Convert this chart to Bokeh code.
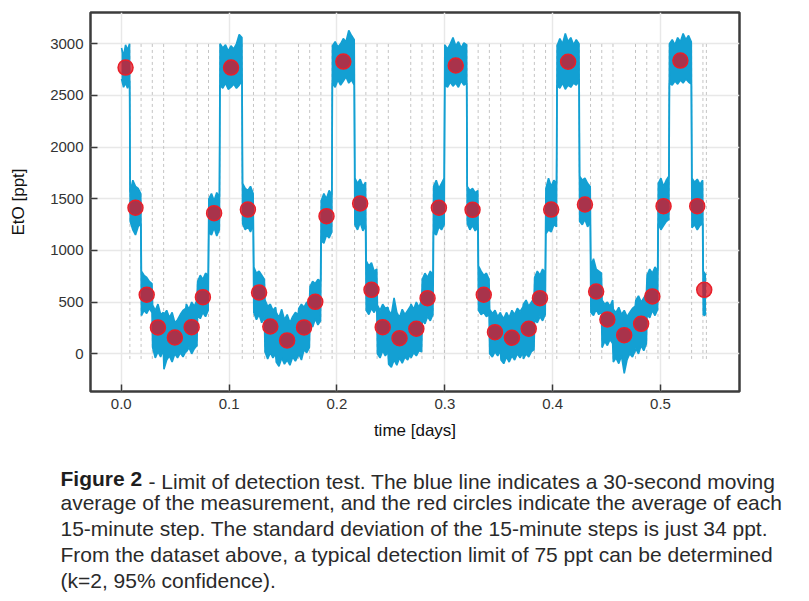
import numpy as np
from bokeh.plotting import figure
from bokeh.models import Range1d, FixedTicker, PrintfTickFormatter, Title
from bokeh.embed import file_html
from bokeh.resources import INLINE

# ---------------- data ----------------
x_ticks = [0.0, 0.1, 0.2, 0.3, 0.4, 0.5]
y_ticks = [0, 500, 1000, 1500, 2000, 2500, 3000]

# start time [days] of each concentration step of the blue trace
step_start = [0.0000, 0.0080, 0.0184, 0.0288, 0.0393, 0.0601, 0.0705, 0.0809,
              0.0913, 0.1122, 0.1226, 0.1330, 0.1434, 0.1643, 0.1747, 0.1851,
              0.1955, 0.2163, 0.2268, 0.2372, 0.2476, 0.2684, 0.2788, 0.2893,
              0.2997, 0.3205, 0.3309, 0.3413, 0.3518, 0.3726, 0.3830, 0.3934,
              0.4038, 0.4247, 0.4351, 0.4455, 0.4559, 0.4768, 0.4872, 0.4976,
              0.5080, 0.5288, 0.5393]
data_end = 0.5425

# upper / lower envelope of the noisy 30-s moving average within each step [ppt]
step_hi = [
    [2960, 2880, 2990, 2940, 3000],
    [1560, 1680, 1620, 1600, 1550],
    [800, 760, 740, 700, 680],
    [470, 420, 480, 380, 400],
    [380, 420, 350, 400, 300, 330, 380, 420, 440],
    [480, 430, 500, 460, 520],
    [700, 760, 720, 780, 760],
    [1500, 1550, 1480, 1560, 1520],
    [3000, 2960, 2990, 2930, 2980, 2950, 3000, 3090, 3060],
    [1650, 1600, 1580, 1620, 1550],
    [840, 780, 800, 760, 720],
    [520, 460, 480, 420, 450],
    [400, 350, 430, 330, 380, 300, 360, 400, 380],
    [440, 480, 450, 500, 470],
    [650, 700, 680, 720, 700],
    [1480, 1550, 1500, 1580, 1540],
    [2980, 3020, 2970, 3000, 3050, 3020, 3130, 3080, 3040],
    [1700, 1650, 1690, 1620, 1660],
    [900, 850, 880, 800, 820],
    [470, 420, 480, 440, 450],
    [420, 380, 540, 400, 350, 430, 380, 420, 460],
    [480, 430, 500, 450, 520],
    [720, 780, 740, 800, 760],
    [1620, 1680, 1600, 1650, 1700],
    [2990, 2950, 3000, 3060, 2980, 3020, 2960, 3010, 2990],
    [1620, 1580, 1600, 1560, 1580],
    [850, 800, 760, 780, 720],
    [430, 390, 420, 360, 400],
    [380, 340, 400, 350, 420, 380, 440, 410, 450],
    [480, 520, 460, 500, 540],
    [740, 800, 760, 820, 780],
    [1600, 1700, 1620, 1680, 1650],
    [2980, 3050, 3000, 3100, 3020, 3060, 2990, 3040, 3000],
    [1720, 1680, 1700, 1650, 1620],
    [850, 920, 820, 800, 780],
    [520, 480, 500, 460, 520],
    [430, 400, 450, 380, 420, 360, 400, 440, 460],
    [520, 560, 500, 540, 580],
    [760, 820, 780, 840, 800],
    [1650, 1700, 1620, 1680, 1720],
    [3000, 3040, 2990, 3060, 3020, 3100, 3040, 3080, 3020],
    [1700, 1660, 1690, 1640, 1680],
    [800, 780, 760],
]
step_lo = [
    [2660, 2580, 2620, 2570, 2640],
    [1280, 1200, 1150, 1230, 1260],
    [370, 420, 390, 440, 400],
    [60, -40, 20, -30, 40],
    [-150, -60, -20, -80, 0, -40, 10, -30, 20],
    [20, 60, 0, 50, 80],
    [380, 340, 400, 360, 420],
    [1180, 1150, 1220, 1140, 1200],
    [2600, 2570, 2620, 2560, 2580, 2610, 2570, 2600, 2640],
    [1260, 1200, 1230, 1180, 1250],
    [400, 330, 380, 300, 360],
    [20, -50, 10, -40, 0],
    [-80, -120, -40, -100, -60, -110, -30, -70, -20],
    [0, -60, 40, 10, 60],
    [300, 260, 340, 280, 320],
    [1100, 1070, 1150, 1120, 1180],
    [2620, 2580, 2650, 2600, 2640, 2680, 2620, 2650, 2600],
    [1250, 1200, 1270, 1190, 1240],
    [420, 380, 440, 400, 450],
    [0, -40, 30, -20, 20],
    [-100, -130, -60, -110, -40, -90, -30, -60, 0],
    [-40, 10, -20, 30, 20],
    [330, 290, 360, 320, 380],
    [1180, 1150, 1230, 1200, 1250],
    [2600, 2580, 2630, 2590, 2620, 2580, 2640, 2600, 2620],
    [1260, 1200, 1240, 1190, 1220],
    [420, 380, 400, 360, 380],
    [0, -30, 20, -20, 30],
    [-60, -95, -30, -80, -20, -60, 0, -40, 10],
    [-50, 0, -30, 20, 40],
    [330, 300, 360, 320, 380],
    [1160, 1200, 1180, 1250, 1230],
    [2600, 2570, 2620, 2560, 2600, 2580, 2620, 2600, 2640],
    [1280, 1250, 1300, 1230, 1270],
    [400, 370, 430, 380, 420],
    [60, 120, 80, 140, 100],
    [-80, -40, -95, -20, -190, -60, 0, -30, 30],
    [50, 0, 80, 30, 100],
    [380, 350, 420, 370, 430],
    [1260, 1200, 1240, 1280, 1300],
    [2620, 2600, 2640, 2610, 2650, 2620, 2660, 2630, 2610],
    [1220, 1250, 1200, 1240, 1260],
    [380, 370, 400],
]

# 15-minute step averages (red circles)
avg_time = [0.0040, 0.0132, 0.0236, 0.0340, 0.0497, 0.0653, 0.0757, 0.0861,
            0.1018, 0.1174, 0.1278, 0.1382, 0.1538, 0.1695, 0.1799, 0.1903,
            0.2059, 0.2215, 0.2320, 0.2424, 0.2580, 0.2736, 0.2840, 0.2945,
            0.3101, 0.3257, 0.3361, 0.3465, 0.3622, 0.3778, 0.3882, 0.3986,
            0.4143, 0.4299, 0.4403, 0.4507, 0.4663, 0.4820, 0.4924, 0.5028,
            0.5184, 0.5340, 0.5405]
avg_value = [2770, 1413, 571, 255, 158, 258, 548, 1361,
             2770, 1396, 593, 264, 129, 255, 503, 1332,
             2828, 1455, 619, 258, 151, 242, 538, 1413,
             2790, 1393, 571, 209, 155, 242, 538, 1396,
             2826, 1445, 603, 332, 180, 290, 555, 1429,
             2838, 1429, 619]

caption_bold = "Figure 2"
caption_lines = [
    "- Limit of detection test. The blue line indicates a 30-second moving",
    "average of the measurement, and the red circles indicate the average of each",
    "15-minute step. The standard deviation of the 15-minute steps is just 34 ppt.",
    "From the dataset above, a typical detection limit of 75 ppt can be determined",
    "(k=2, 95% confidence).",
]

# ---------------- styling ----------------
BLUE = "#13a0d3"
FONT = "Liberation Sans"
CAP_COLOR = "#2a2a2a"

step_end = step_start[1:] + [data_end]

xs, his, los = [], [], []
pad = 0.0003
for s, e, hi, lo in zip(step_start, step_end, step_hi, step_lo):
    t = np.linspace(s + pad, e - pad, len(hi))
    xs.extend(t.tolist())
    his.extend(hi)
    los.extend(lo)

boundaries = step_start[1:] + [data_end]

p = figure(width=809, height=601, output_backend="svg", toolbar_location=None,
           x_range=Range1d(-0.0285, 0.5732), y_range=Range1d(-365, 3303),
           min_border_left=90, min_border_right=70, min_border_top=12,
           min_border_bottom=210)
p.background_fill_color = "white"
p.border_fill_color = "white"
p.outline_line_color = "#3c3c3c"
p.outline_line_width = 2.5

p.xaxis.ticker = FixedTicker(ticks=x_ticks)
p.yaxis.ticker = FixedTicker(ticks=y_ticks)
p.xaxis.formatter = PrintfTickFormatter(format="%.1f")
for ax in (p.xaxis, p.yaxis):
    ax.axis_line_color = None
    ax.major_tick_in = 7
    ax.major_tick_out = 0
    ax.major_tick_line_color = "#3a3a3a"
    ax.major_tick_line_width = 1.5
    ax.minor_tick_line_color = None
    ax.major_label_text_font = FONT
    ax.major_label_text_font_size = "15px"
    ax.major_label_text_color = "#333333"
    ax.axis_label_text_font = FONT
    ax.axis_label_text_font_size = "17px"
    ax.axis_label_text_font_style = "normal"
    ax.axis_label_text_color = "#111111"
p.xaxis.axis_label = "time [days]"
p.yaxis.axis_label = "EtO [ppt]"
p.yaxis.major_label_standoff = 7
p.xaxis.major_label_standoff = 7
p.yaxis.axis_label_standoff = 19
p.xaxis.axis_label_standoff = 9

p.xgrid.ticker = FixedTicker(ticks=x_ticks)
p.ygrid.ticker = FixedTicker(ticks=y_ticks)
for g in (p.xgrid, p.ygrid):
    g.grid_line_color = "#e8e8e8"
    g.grid_line_width = 1.5

# dashed step boundaries
p.segment(x0=boundaries, y0=[-50] * len(boundaries), x1=boundaries,
          y1=[3000] * len(boundaries), line_color="#c4c4c4", line_width=1,
          line_dash="3 3")

# blue trace
p.varea(x=xs, y1=los, y2=his, fill_color=BLUE)
p.line(xs, his, line_color=BLUE, line_width=1.6)
p.line(xs, los, line_color=BLUE, line_width=1.6)

# red step averages
p.scatter(avg_time, avg_value, size=15, marker="circle",
          fill_color="#dc0f1e", fill_alpha=0.75,
          line_color="#e8202a", line_width=1.5)

# ---------------- caption: stacked titles below the axis ----------------
def spacer(gap):
    p.add_layout(Title(text=" ", text_font_size="2px", standoff=gap), "below")

spacer(29)
# bold lead-in and first line share one row (zero-height panels)
p.add_layout(Title(text=caption_bold, align="left", offset=-30, standoff=-21,
                   text_font=FONT, text_font_size="21px",
                   text_font_style="bold", text_color="#1e1e1e"), "below")
p.add_layout(Title(text=caption_lines[0], align="left", offset=58, standoff=-24,
                   text_font=FONT, text_font_size="21px",
                   text_font_style="normal", text_color=CAP_COLOR), "below")
spacer(3.5)
for txt in caption_lines[1:]:
    p.add_layout(Title(text=txt, align="left", offset=-30, standoff=1,
                       text_font=FONT, text_font_size="21px",
                       text_font_style="normal", text_color=CAP_COLOR),
                 "below")

open("out.html", "w").write(file_html(p, INLINE))
